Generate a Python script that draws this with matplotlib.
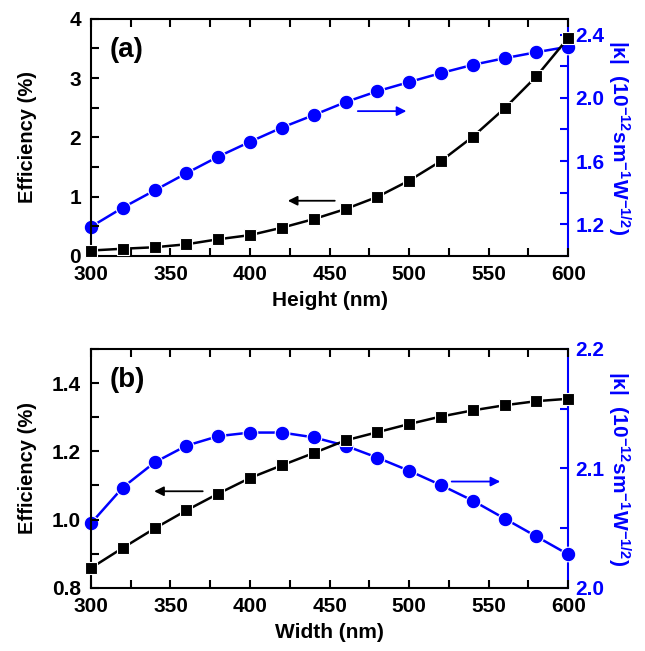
import matplotlib
matplotlib.use("Agg")
import matplotlib.pyplot as plt
from matplotlib.ticker import MultipleLocator

plt.rcParams['font.family'] = ['Liberation Sans', 'DejaVu Sans']
plt.rcParams['font.weight'] = 'bold'
plt.rcParams['mathtext.fontset'] = 'custom'
plt.rcParams['mathtext.rm'] = 'Liberation Sans:bold'
plt.rcParams['mathtext.bf'] = 'Liberation Sans:bold'
plt.rcParams['mathtext.it'] = 'Liberation Sans:bold'
plt.rcParams['mathtext.default'] = 'rm'

# ---- data ----
height = [300, 320, 340, 360, 380, 400, 420, 440, 460, 480, 500, 520, 540, 560, 580, 600]
eff_height = [0.09, 0.12, 0.145, 0.195, 0.28, 0.35, 0.475, 0.62, 0.79, 0.995, 1.27, 1.60, 2.01, 2.49, 3.03, 3.68]
kappa_height = [1.184, 1.305, 1.414, 1.523, 1.628, 1.722, 1.812, 1.891, 1.973, 2.042, 2.100, 2.157, 2.209, 2.251, 2.289, 2.324]

width = [300, 320, 340, 360, 380, 400, 420, 440, 460, 480, 500, 520, 540, 560, 580, 600]
eff_width = [0.858, 0.917, 0.974, 1.027, 1.076, 1.122, 1.159, 1.195, 1.232, 1.256, 1.280, 1.302, 1.320, 1.335, 1.347, 1.354]
kappa_width = [2.054, 2.084, 2.105, 2.119, 2.127, 2.130, 2.130, 2.126, 2.119, 2.109, 2.098, 2.086, 2.073, 2.058, 2.043, 2.028]

panel_labels = ['(a)', '(b)']
xlabels = ['Height (nm)', 'Width (nm)']
left_label = 'Efficiency (%)'
right_label = r'|κ|  (10$^{-12}$sm$^{-1}$W$^{-1/2}$)'

BLUE = '#0000FF'
fig = plt.figure(figsize=(6.45, 6.51), dpi=100)

axes_rects = [[0.141, 0.607, 0.740, 0.364], [0.141, 0.097, 0.740, 0.367]]
configs = [
    dict(x=height, eff=eff_height, kap=kappa_height, ylim=(0, 4), ymaj=1, ymin=0.5,
         y2lim=(1.0, 2.5), y2min=0.2, y2ticks=[1.2, 1.6, 2.0, 2.4], y2fmt='%.1f', yfmt='%g',
         black_arrow=((455, 0.93), (422, 0.93)), blue_arrow=((466, 1.916), (500, 1.916))),
    dict(x=width, eff=eff_width, kap=kappa_width, ylim=(0.8, 1.5), ymaj=0.2, ymin=0.1,
         y2lim=(2.0, 2.2), y2min=0.05, y2ticks=[2.0, 2.1, 2.2], y2fmt='%.1f', yfmt='%.1f',
         black_arrow=((372, 1.083), (338, 1.083)), blue_arrow=((525, 2.089), (559, 2.089))),
]

for i, (rect, c) in enumerate(zip(axes_rects, configs)):
    ax = fig.add_axes(rect)
    ax2 = ax.twinx()
    ax.set_zorder(ax2.get_zorder() + 1)
    ax.patch.set_visible(False)

    ax.plot(c['x'], c['eff'], color='black', marker='s', ms=9, mec='white', mew=0.8,
            lw=1.8, clip_on=False, zorder=3)
    ax2.plot(c['x'], c['kap'], color=BLUE, marker='o', ms=10.5, mec='white', mew=0.8,
             lw=1.8, clip_on=False, zorder=3)

    ax.set_xlim(300, 600)
    ax.set_ylim(*c['ylim'])
    ax2.set_ylim(*c['y2lim'])
    ax.xaxis.set_major_locator(MultipleLocator(50))
    ax.xaxis.set_minor_locator(MultipleLocator(25))
    ax.yaxis.set_major_locator(MultipleLocator(c['ymaj']))
    ax.yaxis.set_minor_locator(MultipleLocator(c['ymin']))
    ax.yaxis.set_major_formatter(plt.FormatStrFormatter(c['yfmt']))
    ax2.set_yticks(c['y2ticks'])
    ax2.yaxis.set_minor_locator(MultipleLocator(c['y2min']))
    ax2.yaxis.set_major_formatter(plt.FormatStrFormatter(c['y2fmt']))

    ax.tick_params(axis='both', which='both', direction='in', top=True, right=False,
                   labelsize=15, width=1.5, length=6)
    ax.tick_params(axis='x', which='major', pad=6.5)
    ax.tick_params(axis='y', which='major', pad=7)
    ax2.tick_params(axis='y', which='both', direction='in', colors=BLUE, labelsize=15,
                    width=1.5, length=6)
    ax2.tick_params(axis='y', which='major', pad=5)

    for s in ['left', 'bottom', 'top']:
        ax.spines[s].set_linewidth(1.5)
    ax.spines['right'].set_visible(False)
    ax2.spines['right'].set_color(BLUE)
    ax2.spines['right'].set_linewidth(1.5)
    for s in ['left', 'bottom', 'top']:
        ax2.spines[s].set_visible(False)

    ax.set_xlabel(xlabels[i], fontsize=15, fontweight='bold', labelpad=5)
    ax.set_ylabel(left_label, fontsize=14.5, fontweight='bold')
    ax.yaxis.set_label_coords(-0.113, 0.5)
    ax2.set_ylabel(right_label, fontsize=15, fontweight='bold', color=BLUE, rotation=270, labelpad=20)

    ax.text(0.04, 0.87, panel_labels[i], transform=ax.transAxes, fontsize=20, fontweight='bold',
            ha='left', va='center')

    (bx0, by0), (bx1, by1) = c['black_arrow']
    ax.annotate('', xy=(bx1, by1), xytext=(bx0, by0),
                arrowprops=dict(arrowstyle='-|>', color='black', lw=1.3, mutation_scale=14))
    (ux0, uy0), (ux1, uy1) = c['blue_arrow']
    ax2.annotate('', xy=(ux1, uy1), xytext=(ux0, uy0),
                 arrowprops=dict(arrowstyle='-|>', color=BLUE, lw=1.3, mutation_scale=14))

fig.savefig('out.png', dpi=100)
